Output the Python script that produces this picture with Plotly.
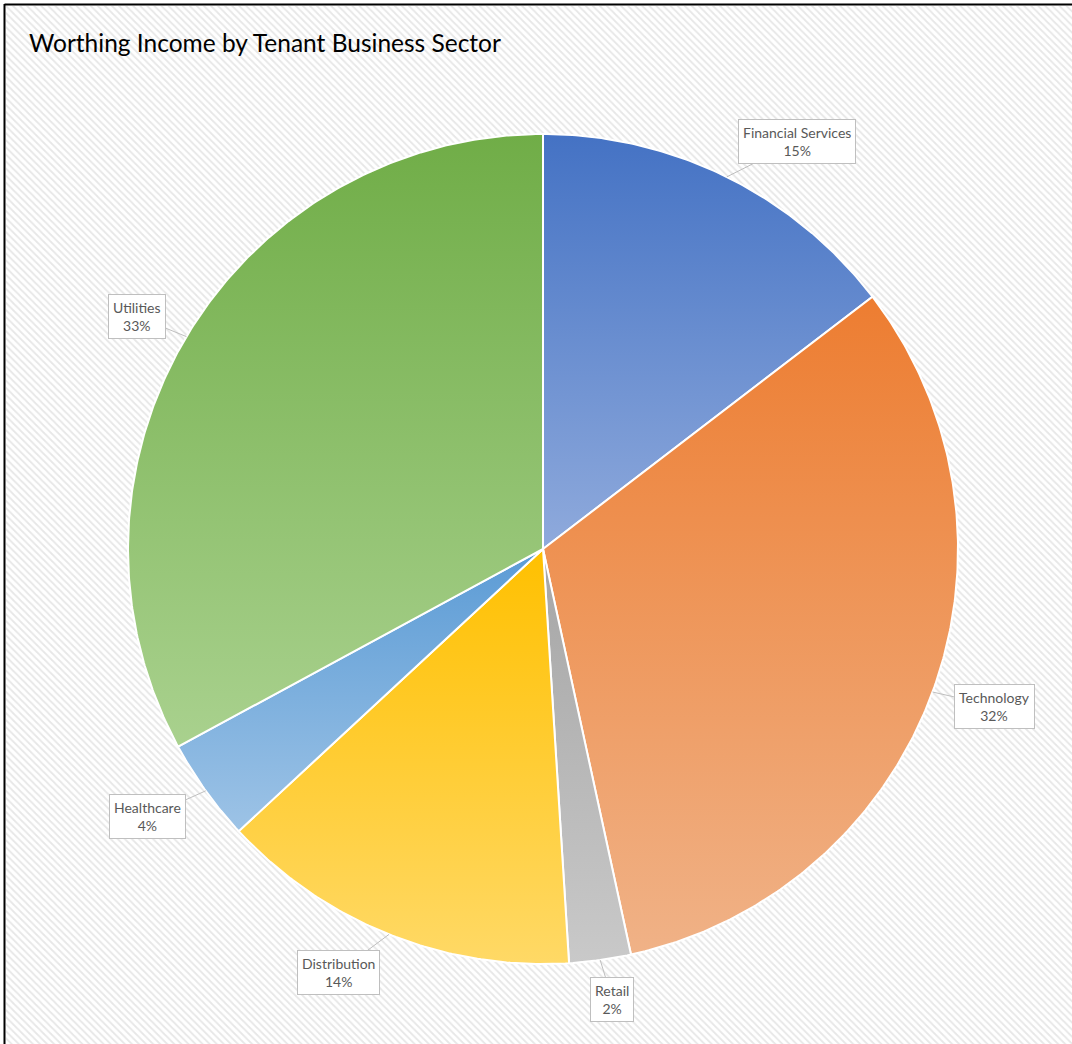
import numpy as np
import plotly.graph_objects as go

# ---- data ----
sectors = ["Financial Services", "Technology", "Retail", "Distribution", "Healthcare", "Utilities"]
shares = [14.6, 32.0, 2.4, 14.1, 4.0, 32.9]
title_text = "Worthing Income by Tenant Business Sector"

# ---- styles ----
dark_colors = ["#4472C4", "#ED7D31", "#A5A5A5", "#FFC000", "#5B9BD5", "#70AD47"]
light_colors = ["#8FAADC", "#F0B287", "#C9C9C9", "#FFD966", "#9DC3E6", "#A9D18E"]
label_offsets = [(70, -35), (62, 14), (12, 39), (-51, 38), (-58, 26), (-49, -20)]

W, H = 1072, 1044
CX, CY, R = 543, 549, 415  # pie centre / radius in pixels

fig = go.Figure()

# hatched background
fig.add_trace(go.Bar(
    x=[0.5], y=[1], width=[1], xaxis="x", yaxis="y",
    marker=dict(color="white", line=dict(width=0),
                pattern=dict(shape="\\", fgcolor="#CFCFCF", bgcolor="#FFFFFF",
                             size=5, solidity=0.35)),
    hoverinfo="skip", showlegend=False,
))

total = sum(shares)
cum = 0.0
annotations = []
for i, (name, v) in enumerate(zip(sectors, shares)):
    t0 = cum / total * 2 * np.pi
    t1 = (cum + v) / total * 2 * np.pi
    n = max(4, int(np.degrees(t1 - t0) * 2))
    th = np.linspace(t0, t1, n)
    xs = np.concatenate([[0], np.sin(th), [0]])
    ys = np.concatenate([[0], np.cos(th), [0]])
    fig.add_trace(go.Scatter(
        x=xs, y=ys, xaxis="x2", yaxis="y2", mode="lines", fill="toself",
        line=dict(color="white", width=2),
        fillgradient=dict(type="vertical",
                          colorscale=[[0, light_colors[i]], [1, dark_colors[i]]]),
        name=name, hoverinfo="name", showlegend=False,
    ))
    mid = (cum + v / 2) / total * 2 * np.pi
    ax, ay = label_offsets[i]
    annotations.append(dict(
        x=float(np.sin(mid)), y=float(np.cos(mid)), xref="x2", yref="y2",
        text=f"{name}<br>{round(v / total * 100)}%",
        showarrow=True, arrowhead=0, arrowcolor="#BFBFBF", arrowwidth=1,
        ax=ax, ay=ay, standoff=0,
        bgcolor="white", bordercolor="#BFBFBF", borderwidth=1, borderpad=4,
        font=dict(family="Lato, Open Sans, sans-serif", size=14, color="#595959"),
        align="center",
    ))
    cum += v

annotations.append(dict(
    x=27 / W, y=1 - 42 / H, xref="paper", yref="paper", xanchor="left", yanchor="middle",
    text=title_text, showarrow=False,
    font=dict(family="Lato, Open Sans, sans-serif", size=24.5, color="#000000"),
))

fig.update_layout(
    width=W, height=H,
    margin=dict(l=0, r=0, t=0, b=0),
    paper_bgcolor="white", plot_bgcolor="rgba(0,0,0,0)",
    xaxis=dict(domain=[6 / W, 1], range=[0, 1], visible=False, fixedrange=True),
    yaxis=dict(domain=[0, 1 - 6 / H], range=[0, 1], visible=False, fixedrange=True),
    xaxis2=dict(domain=[0, 1], range=[-CX / R, (W - CX) / R], visible=False,
                fixedrange=True, anchor="y2"),
    yaxis2=dict(domain=[0, 1], range=[-(H - CY) / R, CY / R], visible=False,
                fixedrange=True, anchor="x2"),
    bargap=0,
    annotations=annotations,
    shapes=[
        dict(type="line", xref="paper", yref="paper", x0=4.5 / W, x1=4.5 / W,
             y0=0, y1=1 - 4 / H, line=dict(color="black", width=2), layer="above"),
        dict(type="line", xref="paper", yref="paper", x0=4.5 / W, x1=1,
             y0=1 - 4.5 / H, y1=1 - 4.5 / H, line=dict(color="black", width=2), layer="above"),
    ],
    showlegend=False,
)

fig.write_html("out.html")
